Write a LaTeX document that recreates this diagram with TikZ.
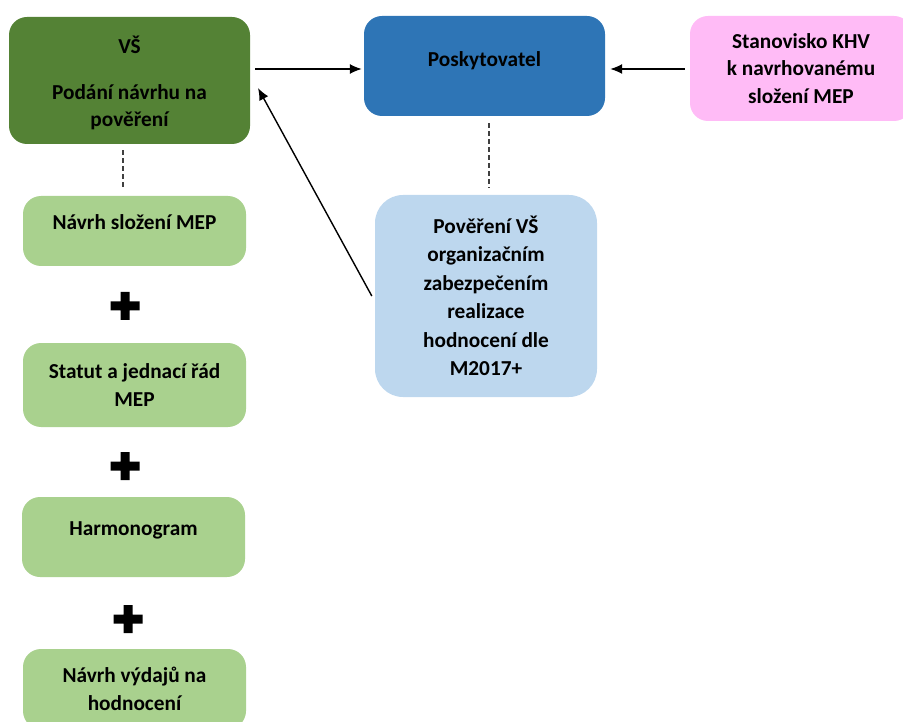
\documentclass[tikz,border=0pt]{standalone}
\usepackage{fontspec}
\setmainfont{Carlito}
\usetikzlibrary{arrows.meta}
\definecolor{vsgreen}{HTML}{548235}
\definecolor{poskblue}{HTML}{2E75B6}
\definecolor{mepgreen}{HTML}{A9D18E}
\definecolor{poverblue}{HTML}{BDD7EE}
\definecolor{khvpink}{HTML}{FFBBF6}
\newcommand{\plussign}[2]{\fill[shift={( #1 , #2 )}] (-14.5,-4.5) rectangle (14.5,4.5) (-4.5,-14) rectangle (4.5,14);}
\tikzset{
  card/.style={rounded corners=18pt, align=center, inner sep=4pt, text=black,
    font=\fontsize{21.3}{27.5}\selectfont\bfseries},
  arr/.style={-{Latex[length=12pt,width=10pt]}, line width=1.4pt},
  dashlink/.style={dash pattern=on 5pt off 3pt, line width=1.1pt, black!75}
}
\begin{document}
\begin{tikzpicture}[x=1pt, y=-1pt]
    \useasboundingbox (0,0) rectangle (903,722);
    \clip (0,0) rectangle (903,722);
        % top row
        \node[card, fill=vsgreen, minimum width=241pt, minimum height=127pt] (vs) at (129.5,80.5) {\rule{0pt}{23pt}VŠ\\[18pt]Podání návrhu na\\pověření};
        \node[card, fill=poskblue, minimum width=241pt, minimum height=100pt, text depth=13pt] (posk) at (484.5,66) {Poskytovatel};
        \node[card, fill=khvpink, minimum width=222pt, minimum height=105pt] (khv) at (801,68.5) {Stanovisko KHV\\k navrhovanému\\složení MEP};
        % left column
        \node[card, fill=mepgreen, minimum width=223pt, minimum height=70pt, text depth=18pt] (navrh) at (134.5,231) {Návrh složení MEP};
        \plussign{125}{306}
        \node[card, fill=mepgreen, minimum width=223pt, minimum height=84pt] (statut) at (134.5,385) {Statut a jednací řád\\MEP};
        \plussign{125}{466}
        \node[card, fill=mepgreen, minimum width=223pt, minimum height=80pt, text depth=17pt] (harmon) at (133.5,537) {Harmonogram};
        \plussign{128}{619}
        \node[card, fill=mepgreen, minimum width=223pt, minimum height=80pt] (vydaje) at (134.5,689) {Návrh výdajů na\\hodnocení};
        % right column
        \node[card, fill=poverblue, rounded corners=28pt, minimum width=222pt, minimum height=202pt, font=\fontsize{21.3}{28.5}\selectfont\bfseries] (pover) at (486,296) {Pověření VŠ\\organizačním\\zabezpečením\\realizace\\hodnocení dle\\M2017+};
        % links
        \coordinate (poskin) at ([shift={(-2pt,-3pt)}]posk.west);
        \coordinate (poskin2) at ([shift={(5pt,-3pt)}]posk.east);
        \coordinate (vsin) at (258,88);
        \draw[arr] ([xshift=5pt]vs.east |- poskin) -- (poskin);
        \draw[arr] ([xshift=-5pt]khv.west |- poskin2) -- (poskin2);
        \draw[arr] ([xshift=-3pt]pover.west) -- (vsin);
        \draw[dashlink] ([xshift=-6.5pt,yshift=-6pt]vs.south) -- ([xshift=-11.5pt,yshift=8pt]navrh.north);
        \draw[dashlink] ([xshift=4.5pt,yshift=-7pt]posk.south) -- ([xshift=3pt,yshift=7pt]pover.north);
    \end{tikzpicture}
\end{document}
